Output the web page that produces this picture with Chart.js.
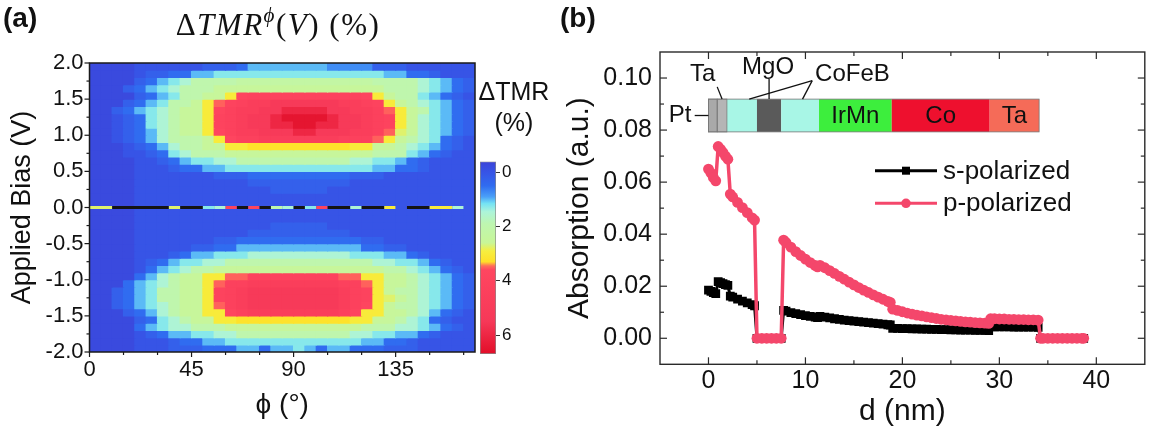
<!DOCTYPE html>
<html lang="en">
<head>
<meta charset="UTF-8">
<meta name="viewport" content="width=device-width, initial-scale=1.0">
<title>TMR bias map and layer absorption</title>
<script src="https://cdn.jsdelivr.net/npm/chart.js@4.4.1/dist/chart.umd.min.js"></script>
<style>
  body { margin: 0; background: #fff; }
  #page { position: relative; width: 1151px; height: 434px; overflow: hidden;
          font-family: "Liberation Sans", Arial, sans-serif; color: #111; }
  #page canvas { position: absolute; top: 0; }
  .tag { position: absolute; top: 2px; font-size: 28px; font-weight: bold; line-height: 32px; }
  #mapTitle { position: absolute; left: 0; width: 556px; top: 7px; text-align: center;
              font: 31px "Liberation Serif", "DejaVu Serif", serif; letter-spacing: 1.5px; line-height: 36px; }
  #mapTitle sup { font-size: 0.68em; vertical-align: 0.6em; line-height: 0; }
  #cbarTitle { position: absolute; left: 464px; width: 100px; top: 76px; text-align: center;
               font-size: 25px; line-height: 31px; }
</style>
</head>
<body>
<div id="page">
  <canvas id="mapChart" width="480" height="434" style="left:0"></canvas>
  <canvas id="cbarChart" width="120" height="434" style="left:440px"></canvas>
  <canvas id="absChart" width="591" height="434" style="left:560px"></canvas>
  <div class="tag" style="left:3px">(a)</div>
  <div class="tag" style="left:560px">(b)</div>
  <div id="mapTitle">Δ<i>TMR</i><sup><i>ϕ</i></sup>(<i>V</i>) (%)</div>
  <div id="cbarTitle">ΔTMR<br>(%)</div>
</div>

<script>
// ---------- panel (a): ΔTMR map ----------
const phiCells = [2.5, 7.5, 12.5, 17.5, 22.5, 27.5, 32.5, 37.5, 42.5, 47.5, 52.5, 57.5,
  62.5, 67.5, 72.5, 77.5, 82.5, 87.5, 92.5, 97.5, 102.5, 107.5, 112.5, 117.5,
  122.5, 127.5, 132.5, 137.5, 142.5, 147.5, 152.5, 157.5, 162.5, 167.5];
const biasCells = [1.95, 1.85, 1.75, 1.65, 1.55, 1.45, 1.35, 1.25, 1.15, 1.05,
  0.95, 0.85, 0.75, 0.65, 0.55, 0.45, 0.35, 0.25, 0.15, 0.05,
  -0.05, -0.15, -0.25, -0.35, -0.45, -0.55, -0.65, -0.75, -0.85, -0.95,
  -1.05, -1.15, -1.25, -1.35, -1.45, -1.55, -1.65, -1.75, -1.85, -1.95];
// one base-36 code per phi cell, value (%) = code / 4 - 0.5 ; spaces only group the cells
const tmrRows = [
  '1111 222222 333 4 66666 66 5555 333 222222',
  '1111 2 33 44 66 77777 77777 77777 66 44 3 222',
  '1111 3 4 6 7 8 aaaa bbbbbb bbbbbb aaaa 8 7 6 4 3',
  '111 3 4 6 7 8 aaa cc ccccc cccccc cc aaa 8 7 6 4 3',
  '1111 3 4 6 7 a a c c e h iiiii iiiii h e c a a 7 6 4 3 2',
  '111 3 4 6 7 a a c e g i j l l nnnnnn l l j i e c a 8 7 6 4 3',
  '11 3 4 6 7 8 a c c e h j l l n n qqqq n n l l j g e c a 7 6 4 3',
  '11 2 3 4 7 8 a c c e i j l n n q ssss q n n l j i e c 8 7 6 4 3',
  '11 2 3 4 7 8 a c c e i j l n n q q s s q q n n l j i e c 8 7 6 4 3',
  '11 2 3 4 6 8 a c c e h j l l n n n q q n n n l l j g d c 8 7 6 4 3',
  '11 2 3 4 6 8 a a a c e h j j lllll ll j j j g e c a 8 7 4 3 2',
  '111 2 3 4 6 8 a a c c e e fffff ffff e e c c a 8 7 6 4 3 2',
  '111 2 2 3 4 7 8 a a a ccccc ccccc ccc a a a 7 6 4 3 2 2',
  '1111 2 2 3 4 6 7 7 8 8 aaaaa aaaaa 8 8 7 7 6 4 3 2 222',
  '1111 222 3 44 66 77777 77777 777 66 44 3 2222',
  '1111 22222 22 333 44444 4444 333 22222 222',
  '1111 22222 22222 33333 3333 22222 222222',
  '1111 22222 22222 22 33333 22222 22222 222',
  '1111 22222 22222 22222 22222 22222 22222',
  '1111 22222 22222 22222 22222 22222 22222',
  '1111 22222 22222 22222 22222 22222 22222',
  '1111 22222 22222 22222 22222 22222 22222',
  '1111 22222 22222 22 33333 22222 22222 222',
  '1111 22222 22222 33333 3333 22222 222222',
  '1111 22222 22 33 44444 444444 33 22222 222',
  '1111 22222 33 44 66666 666666 44 33 222222',
  '1111 222 3 4 66 777 88888 8888 777 66 4 3 2222',
  '1111 2 3 4 6 77 88 aaaaa aaaaa aaa 88 77 6 4 3 22',
  '1111 2 4 6 7 8 aa ccc ccccc cccc ccc aa 8 7 6 4 3 2',
  '1111 4 6 8 a c c ee gg iiiii iii gg ee c c a 8 7 6 4 3',
  '111 4 6 7 8 a c c e g jj lllll lll jj g e c c a 8 7 6 4 3',
  '11 3 4 6 7 a a c c e i j l nnnnn nnn l j i e c a a 8 7 6 4 3',
  '11 3 4 6 7 a a c c e i j l nnnnn nnn l j i e d c a 8 7 6 4 3',
  '11 3 4 6 7 8 a c c e g j l nnnnn nnn l j h e c a a 8 7 6 4 3',
  '111 3 4 6 8 a c c e e h j lllll lll j h e e c c a 8 6 4 3 2',
  '1111 3 4 7 8 a c c e e fffff fffff e e c c a 8 7 4 3 2 2',
  '1111 4 6 7 8 8 aaa ccccc ccccc cc aaa 8 8 7 6 4 3 2',
  '1111 2 3 4 66 77 88 aaaaa aaaaa 88 77 66 4 3 222',
  '1111 222 3 44 66 77777 77777 77 66 44 3 22222',
  '1111 222 333 444 66466 76466 444 333 22222'
];
// the V = 0 trace, '.' = no data (drawn black)
const zeroRow = 'dd ..... d .. 7 8 i . h . a 8 . 7 i .. 8 .. e 2 .. e e 8 2';
const phiTicks = [0, 45, 90, 135];
const phiMinorTicks = [15, 30, 60, 75, 105, 120, 150, 165];
const biasTicks = [-2, -1.5, -1, -0.5, 0, 0.5, 1, 1.5, 2];
const biasMinorTicks = [-1.75, -1.25, -0.75, -0.25, 0.25, 0.75, 1.25, 1.75];
const cbarTicks = [0, 2, 4, 6];
const cbarRange = [-0.4, 6.7];

// ---------- panel (b): absorption vs depth ----------
const dNm = [0, 0.25, 0.5, 0.75, 1, 1.25, 1.5, 1.75, 2, 2.25,
  2.5, 3, 3.5, 4, 4.5, 4.75, 5, 5.5, 6, 6.5,
  7, 7.5, 7.75, 8, 8.5, 9, 9.5, 10, 10.5, 11,
  11.25, 11.5, 12, 12.5, 13, 13.5, 14, 14.5, 15, 15.5,
  16, 16.5, 17, 17.5, 18, 18.5, 18.75, 19, 19.5, 20,
  20.5, 21, 21.5, 22, 22.5, 23, 23.5, 24, 24.5, 25,
  25.5, 26, 26.5, 27, 27.5, 28, 28.5, 28.9, 29.1, 29.5,
  30, 30.5, 31, 31.5, 32, 32.5, 33, 33.5, 34, 34.25,
  34.5, 35, 35.5, 36, 36.5, 37, 37.5, 38, 38.5, 38.7];
const sPol = [0.0185, 0.0180, 0.0175, 0.0172, 0.0218, 0.0214, 0.0210, 0.0206, 0.0203, 0.0162,
  0.0158, 0.0150, 0.0143, 0.0136, 0.0129, 0.0125, 0, 0, 0, 0,
  0, 0, 0.0107, 0.0104, 0.0099, 0.0095, 0.0091, 0.0087, 0.0084, 0.0081,
  0.0079, 0.0084, 0.0081, 0.0078, 0.0075, 0.0073, 0.0070, 0.0068, 0.0066, 0.0064,
  0.0062, 0.0060, 0.0058, 0.0056, 0.0054, 0.0052, 0.0051, 0.0038, 0.0038, 0.0037,
  0.0037, 0.0036, 0.0036, 0.0035, 0.0035, 0.0034, 0.0034, 0.0033, 0.0033, 0.0032,
  0.0032, 0.0031, 0.0031, 0.0031, 0.0030, 0.0030, 0.0030, 0.0029, 0.0044, 0.0044,
  0.0044, 0.0044, 0.0044, 0.0043, 0.0043, 0.0043, 0.0043, 0.0043, 0.0042, 0,
  0, 0, 0, 0, 0, 0, 0, 0, 0, 0];
const pPol = [0.0650, 0.0635, 0.0618, 0.0605, 0.0737, 0.0726, 0.0714, 0.0700, 0.0688, 0.0554,
  0.0543, 0.0522, 0.0502, 0.0483, 0.0463, 0.0454, 0, 0, 0, 0,
  0, 0, 0.0377, 0.0368, 0.0350, 0.0333, 0.0318, 0.0304, 0.0291, 0.0280,
  0.0274, 0.0280, 0.0271, 0.0260, 0.0249, 0.0238, 0.0227, 0.0216, 0.0205, 0.0195,
  0.0185, 0.0176, 0.0167, 0.0158, 0.0150, 0.0142, 0.0138, 0.0112, 0.0107, 0.0102,
  0.0097, 0.0093, 0.0089, 0.0086, 0.0082, 0.0079, 0.0076, 0.0073, 0.0071, 0.0069,
  0.0067, 0.0065, 0.0063, 0.0062, 0.0060, 0.0059, 0.0058, 0.0057, 0.0075, 0.0075,
  0.0074, 0.0074, 0.0073, 0.0073, 0.0072, 0.0072, 0.0071, 0.0071, 0.0070, 0,
  0, 0, 0, 0, 0, 0, 0, 0, 0, 0];
const dTicks = [0, 10, 20, 30, 40];
const dMinorTicks = [5, 15, 25, 35];
const absTicks = [0, 0.02, 0.04, 0.06, 0.08, 0.10];
const absMinorTicks = [0.01, 0.03, 0.05, 0.07, 0.09];

// film stack drawn in the inset (nm along d)
const stackLayers = [
  { name: 'Pt', from: 0, to: 0.9, color: '#a9a9a9' },
  { name: 'Ta', from: 0.9, to: 1.9, color: '#b5b5b5' },
  { name: 'CoFeB', from: 1.9, to: 5.0, color: '#a8f6e6' },
  { name: 'MgO', from: 5.0, to: 7.5, color: '#5a5a5a' },
  { name: 'CoFeB', from: 7.5, to: 11.4, color: '#a8f6e6' },
  { name: 'IrMn', from: 11.4, to: 18.9, color: '#3dee3d', inside: true },
  { name: 'Co', from: 18.9, to: 29.0, color: '#ee102e', inside: true },
  { name: 'Ta', from: 29.0, to: 34.1, color: '#f56b58', inside: true }
];
const stackSpan = [0.0793, 0.0919];
const stackCallouts = [
  { text: 'Pt', at: [-1.75, 0.0856], align: 'right', lines: [[[-1.42, 0.0856], [0, 0.0856]]] },
  { text: 'Ta', at: [-0.6, 0.1013], lines: [[[0.9, 0.0966], [1.4, 0.0919]]] },
  { text: 'MgO', at: [6.15, 0.1040], lines: [[[6.25, 0.0997], [6.25, 0.0919]]] },
  { text: 'CoFeB', at: [14.85, 0.1013], lines: [[[10.7, 0.0990], [4.2, 0.0919]], [[10.7, 0.0990], [9.7, 0.0919]]] }
];

// ---------- colour map ----------
const cmapStops = [
  [-0.5, [62, 62, 208]], [-0.25, [58, 74, 222]], [0, [55, 84, 230]], [0.5, [48, 108, 240]],
  [0.9, [74, 160, 248]], [1.15, [116, 226, 244]], [1.45, [172, 244, 218]], [1.9, [190, 246, 176]],
  [2.6, [200, 246, 152]], [2.9, [246, 238, 64]], [3.3, [255, 224, 40]], [3.45, [255, 110, 90]],
  [3.6, [255, 70, 96]], [5.5, [246, 56, 88]], [6.7, [226, 14, 40]]
];
const rgb = c => `rgb(${c[0]},${c[1]},${c[2]})`;
function tmrColor(v) {
  const s = cmapStops;
  if (v <= s[0][0]) return rgb(s[0][1]);
  for (let i = 1; i < s.length; i++) {
    if (v <= s[i][0]) {
      const t = (v - s[i - 1][0]) / (s[i][0] - s[i - 1][0]);
      return rgb(s[i - 1][1].map((a, k) => Math.round(a + (s[i][1][k] - a) * t)));
    }
  }
  return rgb(s[s.length - 1][1]);
}
const cells = row => row.replace(/ /g, '').split('');
const toTmr = ch => parseInt(ch, 36) / 4 - 0.5;

Chart.defaults.font.family = '"Liberation Sans", Arial, sans-serif';
Chart.defaults.color = '#111';
Chart.defaults.animation = false;

// frame round the plot area plus major/minor tick marks
const frameTicks = {
  id: 'frameTicks',
  afterDraw(chart, args, o) {
    const { ctx, chartArea: a } = chart;
    const xs = chart.scales.x, ys = chart.scales.y;
    const dir = o.inside ? -1 : 1;
    const seg = (x1, y1, x2, y2) => { ctx.beginPath(); ctx.moveTo(x1, y1); ctx.lineTo(x2, y2); ctx.stroke(); };
    ctx.save();
    ctx.strokeStyle = o.color;
    ctx.lineWidth = o.tickWidth;
    const xMarks = (vals, len) => vals.forEach(v => {
      const x = xs.getPixelForValue(v);
      seg(x, a.bottom, x, a.bottom + dir * len);
      if (o.mirror) seg(x, a.top, x, a.top - dir * len);
    });
    const yMarks = (vals, len) => vals.forEach(v => {
      const y = ys.getPixelForValue(v);
      seg(a.left, y, a.left - dir * len, y);
      if (o.mirror) seg(a.right, y, a.right + dir * len, y);
    });
    xMarks(o.xMajor, o.major); xMarks(o.xMinor, o.minor);
    yMarks(o.yMajor, o.major); yMarks(o.yMinor, o.minor);
    ctx.lineWidth = o.lineWidth;
    ctx.strokeRect(a.left, a.top, a.right - a.left, a.bottom - a.top);
    ctx.restore();
  }
};

// ---------- heat map ----------
const rowHalf = Math.abs(biasCells[0] - biasCells[1]) / 2;
const colHalf = (phiCells[1] - phiCells[0]) / 2;
const mapSets = tmrRows.map((row, i) => ({
  type: 'bar',
  data: phiCells.map(phi => ({ x: phi, y: [biasCells[i] - rowHalf, biasCells[i] + rowHalf] })),
  backgroundColor: cells(row).map(c => tmrColor(toTmr(c))),
  borderWidth: 0,
  grouped: false,
  barPercentage: 1,
  categoryPercentage: 1,
  inflateAmount: 0.6,
  order: 2
}));
const zeroCodes = cells(zeroRow);
const phiEdges = [phiCells[0] - colHalf].concat(phiCells.map(p => p + colHalf));
mapSets.push({
  type: 'line',
  data: phiEdges.map(x => ({ x, y: 0 })),
  borderColor: '#141414',
  borderWidth: 3,
  pointRadius: 0,
  segment: {
    borderColor: c => zeroCodes[c.p0DataIndex] === '.' ? '#141414' : tmrColor(toTmr(zeroCodes[c.p0DataIndex]))
  },
  order: 1
});

new Chart(document.getElementById('mapChart'), {
  type: 'bar',
  data: { datasets: mapSets },
  options: {
    responsive: false,
    animation: false,
    layout: { padding: { left: 0, top: 63, right: 5, bottom: 0 } },
    plugins: {
      legend: { display: false },
      tooltip: { enabled: false },
      frameTicks: {
        color: '#1a1a1a', lineWidth: 1.5, tickWidth: 1.2, inside: false, mirror: false,
        major: 5, minor: 3,
        xMajor: phiTicks, xMinor: phiMinorTicks, yMajor: biasTicks, yMinor: biasMinorTicks
      }
    },
    scales: {
      x: {
        type: 'linear', min: 0, max: 170, offset: false,
        grid: { display: false, drawTicks: false }, border: { display: false },
        afterBuildTicks: ax => { ax.ticks = phiTicks.map(v => ({ value: v })); },
        ticks: { font: { size: 22 }, padding: 5, maxRotation: 0, autoSkip: false, callback: v => String(v) },
        title: { display: true, text: 'ϕ (°)', font: { size: 28 }, padding: { top: 0, bottom: 12 } },
        afterFit: ax => { ax.height = 82; }
      },
      y: {
        type: 'linear', min: -2, max: 2,
        grid: { display: false, drawTicks: false }, border: { display: false },
        afterBuildTicks: ax => { ax.ticks = biasTicks.map(v => ({ value: v })); },
        ticks: { font: { size: 22 }, padding: 6, autoSkip: false, callback: v => v.toFixed(1) },
        title: { display: true, text: 'Applied Bias (V)', font: { size: 27 }, padding: { top: 6, bottom: 0 } },
        afterFit: ax => { ax.width = 89.5; }
      }
    }
  },
  plugins: [frameTicks]
});

// ---------- colour bar ----------
function cbarFill(context) {
  const chart = context.chart;
  if (!chart.chartArea) return tmrColor(0);
  const ys = chart.scales.y;
  const g = chart.ctx.createLinearGradient(0, ys.getPixelForValue(cbarRange[0]), 0, ys.getPixelForValue(cbarRange[1]));
  const span = cbarRange[1] - cbarRange[0];
  g.addColorStop(0, tmrColor(cbarRange[0]));
  cmapStops.forEach(([v]) => {
    if (v > cbarRange[0] && v < cbarRange[1]) g.addColorStop((v - cbarRange[0]) / span, tmrColor(v));
  });
  g.addColorStop(1, tmrColor(cbarRange[1]));
  return g;
}

new Chart(document.getElementById('cbarChart'), {
  type: 'bar',
  data: {
    labels: [''],
    datasets: [{
      data: [cbarRange],
      backgroundColor: cbarFill,
      borderColor: '#8a8a8a',
      borderWidth: 1,
      borderSkipped: false,
      barPercentage: 1,
      categoryPercentage: 1
    }]
  },
  options: {
    responsive: false,
    animation: false,
    layout: { padding: { left: 40, top: 161.5, right: 0, bottom: 80 } },
    plugins: { legend: { display: false }, tooltip: { enabled: false } },
    scales: {
      x: { display: false },
      y: {
        position: 'right', reverse: true, min: cbarRange[0], max: cbarRange[1],
        grid: { drawOnChartArea: false, drawTicks: true, tickLength: 4, tickColor: '#333' },
        border: { display: false },
        afterBuildTicks: ax => { ax.ticks = cbarTicks.map(v => ({ value: v })); },
        ticks: { font: { size: 17 }, padding: 2, callback: v => String(v) },
        afterFit: ax => { ax.width = 64; }
      }
    }
  }
});

// ---------- panel (b) ----------
const layerStack = {
  id: 'layerStack',
  afterDraw(chart, args, o) {
    const { ctx } = chart;
    const xs = chart.scales.x, ys = chart.scales.y;
    const px = d => xs.getPixelForValue(d), py = v => ys.getPixelForValue(v);
    const yTop = py(o.span[1]), yBot = py(o.span[0]);
    ctx.save();
    o.layers.forEach(l => {
      ctx.fillStyle = l.color;
      ctx.fillRect(px(l.from), yTop, px(l.to) - px(l.from), yBot - yTop);
    });
    ctx.strokeStyle = '#777';
    ctx.lineWidth = 0.8;
    o.layers.slice(0, 2).forEach(l => ctx.strokeRect(px(l.from), yTop, px(l.to) - px(l.from), yBot - yTop));
    ctx.strokeRect(px(o.layers[0].from), yTop, px(o.layers[o.layers.length - 1].to) - px(o.layers[0].from), yBot - yTop);
    ctx.fillStyle = '#111';
    ctx.font = '24px "Liberation Sans", Arial, sans-serif';
    ctx.textBaseline = 'middle';
    ctx.textAlign = 'center';
    o.layers.filter(l => l.inside).forEach(l => ctx.fillText(l.name, (px(l.from) + px(l.to)) / 2, (yTop + yBot) / 2 + 1));
    ctx.strokeStyle = '#111';
    ctx.lineWidth = 1.3;
    o.callouts.forEach(c => {
      ctx.textAlign = c.align || 'center';
      ctx.fillText(c.text, px(c.at[0]), py(c.at[1]));
      c.lines.forEach(([p, q]) => {
        ctx.beginPath(); ctx.moveTo(px(p[0]), py(p[1])); ctx.lineTo(px(q[0]), py(q[1])); ctx.stroke();
      });
    });
    ctx.restore();
  }
};

const curveLegend = {
  id: 'curveLegend',
  afterDraw(chart, args, o) {
    const { ctx, chartArea: a } = chart;
    ctx.save();
    ctx.font = o.font;
    ctx.textBaseline = 'middle';
    ctx.textAlign = 'left';
    chart.data.datasets.forEach((ds, i) => {
      const y = a.top + o.top + i * o.gap;
      const x0 = a.left + o.left, x1 = x0 + o.length, xm = (x0 + x1) / 2;
      ctx.strokeStyle = ds.borderColor;
      ctx.lineWidth = 3;
      ctx.beginPath(); ctx.moveTo(x0, y); ctx.lineTo(x1, y); ctx.stroke();
      ctx.fillStyle = ds.pointBackgroundColor;
      ctx.beginPath();
      if (ds.pointStyle === 'rect') {
        ctx.rect(xm - 4, y - 4, 8, 8);
      } else {
        ctx.arc(xm, y, 4.8, 0, Math.PI * 2);
      }
      ctx.fill();
      ctx.fillStyle = '#111';
      ctx.fillText(ds.label, x1 + o.textGap, y + 1);
    });
    ctx.restore();
  }
};

new Chart(document.getElementById('absChart'), {
  type: 'line',
  data: {
    datasets: [
      {
        label: 's-polarized',
        data: dNm.map((d, i) => ({ x: d, y: sPol[i] })),
        borderColor: '#000', backgroundColor: '#000', pointBackgroundColor: '#000',
        borderWidth: 3, pointStyle: 'rect', pointRadius: 6.2, pointBorderWidth: 0,
        order: 2
      },
      {
        label: 'p-polarized',
        data: dNm.map((d, i) => ({ x: d, y: pPol[i] })),
        borderColor: '#f4476b', backgroundColor: '#f4476b', pointBackgroundColor: '#f4476b',
        borderWidth: 3.5, pointStyle: 'circle', pointRadius: 5.4, pointBorderWidth: 0,
        order: 1
      }
    ]
  },
  options: {
    responsive: false,
    animation: false,
    layout: { padding: { left: 0, top: 52, right: 2.2, bottom: 0 } },
    elements: { line: { tension: 0 } },
    plugins: {
      legend: { display: false },
      tooltip: { enabled: false },
      frameTicks: {
        color: '#2a2a2a', lineWidth: 1.4, tickWidth: 1.2, inside: true, mirror: true,
        major: 7, minor: 4,
        xMajor: dTicks, xMinor: dMinorTicks, yMajor: absTicks, yMinor: absMinorTicks
      },
      layerStack: { layers: stackLayers, span: stackSpan, callouts: stackCallouts },
      curveLegend: {
        left: 215, length: 62, top: 118.7, gap: 32.6, textGap: 6,
        font: '26px "Liberation Sans", Arial, sans-serif'
      }
    },
    scales: {
      x: {
        type: 'linear', min: -5, max: 45,
        grid: { display: false, drawTicks: false }, border: { display: false },
        afterBuildTicks: ax => { ax.ticks = dTicks.map(v => ({ value: v })); },
        ticks: { font: { size: 25 }, padding: 2, maxRotation: 0, autoSkip: false, callback: v => String(v) },
        title: { display: true, text: 'd (nm)', font: { size: 30 }, padding: { top: 0, bottom: 4 } },
        afterFit: ax => { ax.height = 69.7; }
      },
      y: {
        type: 'linear', min: -0.01, max: 0.11,
        grid: { display: false, drawTicks: false }, border: { display: false },
        afterBuildTicks: ax => { ax.ticks = absTicks.map(v => ({ value: v })); },
        ticks: { font: { size: 25 }, padding: 8, autoSkip: false, callback: v => v.toFixed(2) },
        title: { display: true, text: 'Absorption (a.u.)', font: { size: 30 }, padding: { top: 2, bottom: 0 } },
        afterFit: ax => { ax.width = 100; }
      }
    }
  },
  plugins: [frameTicks, layerStack, curveLegend]
});
</script>
</body>
</html>
